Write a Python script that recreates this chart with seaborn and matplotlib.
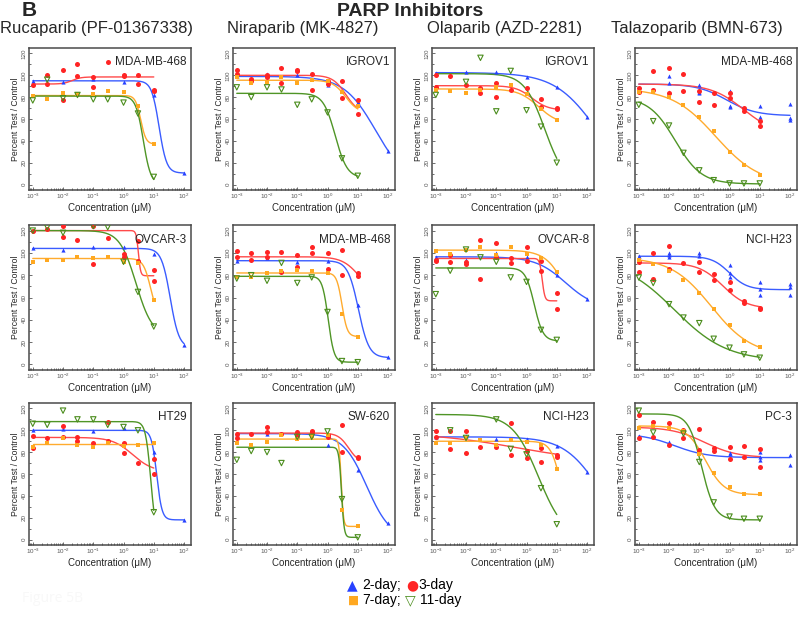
import numpy as np
import pandas as pd
import matplotlib
matplotlib.use("Agg")
from matplotlib import pyplot as plt
from matplotlib.ticker import LogLocator, MultipleLocator, NullFormatter
import seaborn as sns

DAYS = ["2-day", "3-day", "7-day", "11-day"]
COLORS = {"2-day": "#2741ff", "3-day": "#ff2424", "7-day": "#ffa820", "11-day": "#4b8d1d"}
LINE_COLORS = {"2-day": "#3a5cff", "3-day": "#ff4a4a", "7-day": "#ffab2e", "11-day": "#4f9526"}
MARKERS = {"2-day": "^", "3-day": "o", "7-day": "s", "11-day": "v"}
SIZES = {"2-day": 9, "3-day": 13, "7-day": 7, "11-day": 15}

DRUGS = ["Rucaparib (PF-01367338)", "Niraparib (MK-4827)",
         "Olaparib (AZD-2281)", "Talazoparib (BMN-673)"]

# points: (dose uM, percent test/control); fit: (top, bottom, ic50, hill)
ruca_mda468 = {
    "cell": "MDA-MB-468",
    "2-day": [(1e-3, 95), (1e-2, 94), (0.1, 97), (1, 94), (10, 82), (100, 11)],
    "3-day": [(1e-3, 91), (3e-3, 100), (3e-3, 92), (1e-2, 105), (1e-2, 77), (3e-2, 110), (3e-2, 99),
              (0.1, 89), (0.1, 98), (0.3, 112), (1, 100), (1, 99), (3, 100), (3, 92), (10, 87), (10, 86)],
    "7-day": [(1e-3, 81), (3e-3, 78), (1e-2, 84), (3e-2, 83), (0.1, 83), (0.3, 86), (1, 85), (3, 72), (10, 37)],
    "11-day": [(1e-3, 77), (3e-3, 96), (1e-2, 79), (3e-2, 82), (0.1, 78), (0.3, 78), (1, 75), (3, 65), (10, 7)],
}
ruca_mda468_fit = {"2-day": (95, 10.5, 15, 3.5), "3-day": (92, 98.5, 0.02, 3),
                   "7-day": (81.5, 37, 3.7, 5), "11-day": (81, 0, 4.5, 3.5)}

nira_igrov1 = {
    "cell": "IGROV1",
    "2-day": [(1e-3, 99), (1e-2, 101), (0.1, 100), (1, 91), (10, 76), (100, 31)],
    "3-day": [(1e-3, 105), (1e-3, 101), (3e-3, 97), (3e-3, 95), (1e-2, 100), (1e-2, 98), (3e-2, 107), (3e-2, 93),
              (0.1, 104), (0.1, 105), (0.3, 101), (0.3, 87), (1, 95), (1, 92), (3, 95), (3, 79), (10, 77), (10, 65)],
    "7-day": [(1e-3, 98), (3e-3, 93), (1e-2, 94), (3e-2, 98), (0.1, 93), (0.3, 96), (1, 95), (3, 85), (10, 72)],
    "11-day": [(1e-3, 89), (3e-3, 80), (1e-2, 89), (3e-2, 87), (0.1, 73), (0.3, 78), (1, 66), (3, 24), (10, 8)],
}
nira_igrov1_fit = {"2-day": (99, 0, 39, 0.83), "3-day": (100, 65, 4, 2),
                   "7-day": (95.5, 65, 4, 2), "11-day": (83.5, 6, 1.8, 2.2)}

ola_igrov1 = {
    "cell": "IGROV1",
    "2-day": [(1e-3, 102), (1e-2, 103), (0.1, 103), (1, 98), (10, 89), (100, 62)],
    "3-day": [(1e-3, 100), (1e-3, 89), (3e-3, 99), (1e-2, 91), (3e-2, 84), (3e-2, 88), (0.1, 93), (0.1, 80),
              (0.3, 87), (1, 88), (3, 78), (3, 71), (10, 70), (10, 69)],
    "7-day": [(1e-3, 87), (3e-3, 86), (1e-2, 84), (3e-2, 87), (0.1, 89), (0.3, 91), (1, 83), (3, 69), (10, 59)],
    "11-day": [(1e-3, 82), (1e-2, 94), (3e-2, 116), (0.1, 67), (0.3, 104), (1, 68), (3, 53), (10, 20)],
}
ola_igrov1_fit = {"2-day": (102.5, 0, 200, 0.63), "3-day": (90.5, 68, 1.5, 1.6),
                  "7-day": (87.5, 55, 2.5, 1.3), "11-day": (101.5, 0, 4, 1.28)}

tala_mda468 = {
    "cell": "MDA-MB-468",
    "2-day": [(1e-2, 99), (1e-2, 93), (1e-2, 85), (0.1, 91), (0.1, 85), (0.1, 84), (1, 86), (1, 72), (1, 71),
              (10, 72), (10, 62), (100, 74), (100, 61), (100, 59)],
    "3-day": [(1e-3, 88), (1e-3, 85), (3e-3, 104), (3e-3, 87), (1e-2, 107), (1e-2, 84), (3e-2, 101), (3e-2, 86),
              (0.1, 76), (0.1, 86), (0.3, 84), (0.3, 73), (1, 84), (1, 79), (3, 70), (3, 67), (10, 58), (10, 54)],
    "7-day": [(1e-3, 85), (3e-3, 85), (1e-2, 80), (3e-2, 73), (0.1, 62), (0.3, 49), (1, 30), (3, 18), (10, 9)],
    "11-day": [(1e-3, 73), (3e-3, 58), (1e-2, 54), (3e-2, 29), (0.1, 13), (0.3, 4), (1, 1), (3, 1), (10, 1)],
}
tala_mda468_fit = {"2-day": (92, 63, 0.8, 0.9), "3-day": (92, 45, 3, 0.8),
                   "7-day": (88, 0, 0.35, 0.6), "11-day": (80, 0.5, 0.016, 1.0)}

ruca_ovcar3 = {
    "cell": "OVCAR-3",
    "2-day": [(1e-3, 104), (1e-2, 103), (0.1, 105), (1, 105), (10, 99), (100, 17)],
    "3-day": [(1e-3, 120), (3e-3, 121), (1e-2, 124), (1e-2, 114), (3e-2, 112), (0.1, 124), (0.1, 90),
              (0.3, 113), (1, 99), (1, 96), (3, 111), (3, 93), (10, 85), (10, 75)],
    "7-day": [(1e-3, 92), (3e-3, 94), (1e-2, 94), (3e-2, 96), (0.1, 95), (0.3, 96), (1, 92), (3, 91), (10, 58)],
    "11-day": [(1e-3, 120), (3e-3, 123), (1e-2, 118), (0.1, 124), (0.3, 123), (1, 92), (3, 65), (10, 34)],
}
ruca_ovcar3_fit = {"2-day": (104, 15, 35, 3), "3-day": (120, 79.5, 3.1, 12),
                   "7-day": (95, 40, 8, 3.5), "11-day": (120, 25, 2.6, 1.6)}

nira_mda468 = {
    "cell": "MDA-MB-468",
    "2-day": [(1e-3, 93), (1e-2, 95), (0.1, 92), (1, 93), (10, 53), (100, 7)],
    "3-day": [(1e-3, 102), (1e-3, 96), (3e-3, 100), (3e-3, 94), (1e-2, 101), (1e-2, 96), (3e-2, 101), (3e-2, 83),
              (0.1, 98), (0.1, 87), (0.3, 105), (0.3, 100), (1, 100), (1, 86), (3, 103), (3, 80), (10, 82), (10, 79)],
    "7-day": [(1e-3, 78), (3e-3, 78), (1e-2, 82), (3e-2, 84), (0.1, 85), (0.3, 84), (1, 82), (3, 45), (10, 25)],
    "11-day": [(1e-3, 77), (3e-3, 80), (1e-2, 75), (3e-2, 91), (0.1, 73), (0.3, 78), (1, 47), (3, 3), (10, 2)],
}
nira_mda468_fit = {"2-day": (93, 6, 10.5, 2.5), "3-day": (96.5, 60, 12, 1.5),
                   "7-day": (82, 25, 3, 5), "11-day": (79, 2, 1.05, 4.5)}

ola_ovcar8 = {
    "cell": "OVCAR-8",
    "2-day": [(1e-3, 96), (1e-2, 94), (0.1, 100), (1, 96), (10, 80), (100, 59)],
    "3-day": [(1e-3, 94), (1e-3, 93), (3e-3, 98), (3e-3, 92), (1e-2, 92), (1e-2, 90), (3e-2, 112), (3e-2, 77),
              (0.1, 109), (0.1, 96), (0.3, 95), (0.3, 91), (1, 105), (1, 93), (3, 93), (3, 84), (10, 64), (10, 50)],
    "7-day": [(1e-3, 102), (3e-3, 99), (1e-2, 103), (3e-2, 105), (0.1, 98), (0.3, 105), (1, 99), (3, 95), (10, 83)],
    "11-day": [(1e-3, 63), (3e-3, 84), (1e-2, 103), (3e-2, 96), (0.1, 92), (0.3, 78), (1, 74), (3, 31), (10, 22)],
}
ola_ovcar8_fit = {"2-day": (96.5, 50, 19.7, 0.88), "3-day": (95, 57, 3.3, 10),
                  "7-day": (102.5, 0, 33, 1.2), "11-day": (86.5, 21, 1.8, 3)}

tala_h23 = {
    "cell": "NCI-H23",
    "2-day": [(1e-3, 97), (1e-2, 100), (1e-2, 98), (1e-2, 96), (0.1, 100), (0.1, 97), (1, 89), (1, 82), (1, 78),
              (10, 74), (10, 68), (10, 62), (100, 72), (100, 69), (100, 62)],
    "3-day": [(1e-3, 92), (1e-3, 83), (3e-3, 100), (3e-3, 77), (1e-2, 106), (1e-2, 86), (3e-2, 91), (0.1, 92),
              (0.1, 83), (0.3, 81), (0.3, 76), (1, 74), (1, 67), (3, 57), (3, 55), (10, 51), (10, 50)],
    "7-day": [(1e-3, 94), (3e-3, 90), (1e-2, 84), (3e-2, 76), (0.1, 64), (0.3, 50), (1, 35), (3, 21), (10, 16)],
    "11-day": [(1e-3, 78), (3e-3, 73), (1e-2, 54), (3e-2, 42), (0.1, 37), (0.3, 23), (1, 15), (3, 9), (10, 6)],
}
tala_h23_fit = {"2-day": (97, 67, 1, 1.5), "3-day": (91, 50, 0.6, 1.1),
                "7-day": (96, 8, 0.25, 0.65), "11-day": (95, 3, 0.015, 0.5)}

ruca_ht29 = {
    "cell": "HT29",
    "2-day": [(1e-3, 100), (1e-2, 101), (0.1, 99), (1, 102), (10, 80), (100, 18)],
    "3-day": [(1e-3, 95), (1e-3, 84), (3e-3, 93), (1e-2, 104), (1e-2, 94), (3e-2, 94), (3e-2, 90), (0.1, 88),
              (0.3, 108), (0.3, 90), (1, 88), (1, 79), (3, 70), (10, 74), (10, 60)],
    "7-day": [(1e-3, 85), (3e-3, 88), (1e-2, 93), (3e-2, 87), (0.1, 85), (0.3, 88), (1, 86), (3, 87), (10, 88)],
    "11-day": [(1e-3, 106), (3e-3, 105), (1e-2, 118), (3e-2, 110), (0.1, 110), (0.3, 105), (1, 103), (3, 100), (10, 25)],
}
ruca_ht29_fit = {"2-day": (100, 18, 12.5, 5), "3-day": (93.5, 62, 2, 1.3),
                 "7-day": (87.5, 87.5, 1, 1), "11-day": (108, 0, 8, 5)}

nira_sw620 = {
    "cell": "SW-620",
    "2-day": [(1e-3, 97), (1e-2, 97), (0.1, 95), (1, 87), (10, 64), (100, 15)],
    "3-day": [(1e-3, 97), (1e-3, 93), (3e-3, 97), (1e-2, 103), (1e-2, 98), (3e-2, 97), (0.1, 98), (0.1, 95),
              (0.3, 99), (0.3, 98), (1, 96), (1, 94), (3, 105), (3, 80), (10, 76), (10, 75)],
    "7-day": [(1e-3, 88), (3e-3, 87), (1e-2, 89), (3e-2, 96), (0.1, 92), (0.3, 95), (1, 96), (3, 27), (10, 12)],
    "11-day": [(1e-3, 73), (3e-3, 81), (1e-2, 80), (3e-2, 70), (0.1, 94), (0.3, 94), (1, 99), (3, 37), (10, 2)],
}
nira_sw620_fit = {"2-day": (97, 0, 20, 1.1), "3-day": (97.5, 70, 5, 2.5),
                  "7-day": (92, 12, 2.85, 12), "11-day": (84.5, 2, 2.9, 10)}

ola_h23 = {
    "cell": "NCI-H23",
    "2-day": [(1e-3, 94), (1e-2, 95), (0.1, 92), (1, 92), (10, 86), (100, 62)],
    "3-day": [(1e-3, 99), (1e-3, 94), (3e-3, 99), (3e-3, 83), (1e-2, 99), (1e-2, 79), (3e-2, 85), (0.1, 85),
              (0.3, 107), (0.3, 77), (1, 81), (1, 75), (3, 84), (3, 71), (10, 77), (10, 76)],
    "7-day": [(1e-3, 88), (3e-3, 88), (1e-2, 93), (3e-2, 91), (0.1, 87), (0.3, 91), (1, 89), (3, 87), (10, 65)],
    "11-day": [(3e-3, 100), (1e-2, 93), (0.1, 110), (0.3, 83), (1, 78), (3, 47), (10, 14)],
}
ola_h23_fit = {"2-day": (94, 0, 250, 0.74), "3-day": (98, 70, 0.5, 0.3),
               "7-day": (90, 0, 15, 2.5), "11-day": (114.5, 0, 2.5, 1)}

tala_pc3 = {
    "cell": "PC-3",
    "2-day": [(1e-3, 95), (1e-2, 89), (0.1, 81), (1, 79), (1, 78), (10, 80), (10, 76), (10, 73), (100, 77), (100, 68)],
    "3-day": [(1e-3, 114), (1e-3, 93), (3e-3, 108), (3e-3, 94), (1e-2, 107), (1e-2, 87), (3e-2, 100), (3e-2, 93),
              (0.1, 101), (0.1, 82), (0.3, 84), (0.3, 81), (1, 85), (1, 74), (3, 86), (3, 76), (10, 83), (10, 66)],
    "7-day": [(1e-3, 102), (3e-3, 104), (1e-2, 102), (3e-2, 99), (0.1, 78), (0.3, 61), (1, 48), (3, 42), (10, 42)],
    "11-day": [(1e-3, 118), (3e-3, 98), (3e-2, 97), (0.1, 71), (0.3, 34), (1, 21), (3, 19), (10, 19)],
}
tala_pc3_fit = {"2-day": (97, 75, 0.015, 0.8), "3-day": (103, 75, 0.15, 0.8),
                "7-day": (104, 41, 0.16, 1.4), "11-day": (115, 18, 0.12, 2)}

GRID = [
    [(ruca_mda468, ruca_mda468_fit), (nira_igrov1, nira_igrov1_fit), (ola_igrov1, ola_igrov1_fit), (tala_mda468, tala_mda468_fit)],
    [(ruca_ovcar3, ruca_ovcar3_fit), (nira_mda468, nira_mda468_fit), (ola_ovcar8, ola_ovcar8_fit), (tala_h23, tala_h23_fit)],
    [(ruca_ht29, ruca_ht29_fit), (nira_sw620, nira_sw620_fit), (ola_h23, ola_h23_fit), (tala_pc3, tala_pc3_fit)],
]

sns.set_style("ticks")
plt.rcParams["font.family"] = ["Liberation Sans", "DejaVu Sans"]
plt.rcParams["mathtext.default"] = "regular"

fig = plt.figure(figsize=(8, 6.18), dpi=100)
W, H = 800, 618
col_left = [29, 233, 432, 635]
row_top = [48, 225, 403]
row_h = [142, 145, 142]
aw = 162


def logistic(top, bottom, ic50, hill, dmax):
    x = np.logspace(-3, np.log10(dmax), 200)
    return x, bottom + (top - bottom) / (1 + (x / ic50) ** hill)


for r, row in enumerate(GRID):
    for c, (panel, fit) in enumerate(row):
        ax = fig.add_axes([col_left[c] / W, 1 - (row_top[r] + row_h[r]) / H, aw / W, row_h[r] / H])
        for day in DAYS:
            pts = pd.DataFrame(panel[day], columns=["dose", "pct"])
            cx, cy = logistic(*fit[day], pts["dose"].max())
            sns.lineplot(x=cx, y=cy, color=LINE_COLORS[day], lw=1.0, ax=ax, zorder=2)
            if day == "11-day":
                ax.scatter(pts["dose"], pts["pct"], marker="v", s=SIZES[day], facecolors="none",
                           edgecolors=COLORS[day], linewidths=0.8, zorder=3)
            else:
                sns.scatterplot(data=pts, x="dose", y="pct", marker=MARKERS[day], s=SIZES[day],
                                color=COLORS[day], edgecolor=COLORS[day], linewidth=0, ax=ax, zorder=3)
        ax.set_xscale("log")
        ax.set_xlim(7.5e-4, 1.7e2)
        ax.set_ylim(-5, 125)
        ax.xaxis.set_major_locator(LogLocator(base=10, numticks=10))
        ax.xaxis.set_minor_locator(LogLocator(base=10, subs=np.arange(2, 10), numticks=20))
        ax.xaxis.set_minor_formatter(NullFormatter())
        ax.yaxis.set_major_locator(MultipleLocator(20))
        ax.yaxis.set_minor_locator(MultipleLocator(10))
        ax.tick_params(which="both", direction="in", width=0.6, colors="#555555",
                       labelsize=4.5, pad=1.5)
        ax.tick_params(which="major", length=2.5)
        ax.tick_params(which="minor", length=1.5)
        ax.tick_params(axis="y", labelrotation=90)
        for lab in ax.get_yticklabels():
            lab.set_verticalalignment("center")
        for sp in ax.spines.values():
            sp.set_visible(True)
            sp.set_color("#4a4a4a")
            sp.set_linewidth(1.1)
        ax.set_xlabel("Concentration (\u03bcM)", fontsize=7, labelpad=1.5)
        ax.set_ylabel("Percent Test / Control", fontsize=6.2, labelpad=1.5)
        ax.text(0.97, 0.9, panel["cell"], transform=ax.transAxes, ha="right", va="center", fontsize=8.5)

# headings
fig.text(22 / W, 1 - 11 / H, "B", fontsize=15, fontweight="bold", ha="left", va="center")
fig.text(410 / W, 1 - 11 / H, "PARP Inhibitors", fontsize=14, fontweight="bold", ha="center", va="center")
for xc, name in zip([97, 303, 505, 697], DRUGS):
    fig.text(xc / W, 1 - 28 / H, name, fontsize=12, ha="center", va="center")

# legend built from text runs
leg = [
    (347, 585, "\u25b2", COLORS["2-day"], 10), (362, 585, "2-day;", "black", 10),
    (406, 585, "\u25cf", COLORS["3-day"], 10), (418, 585, "3-day", "black", 10),
    (348, 600, "\u25a0", COLORS["7-day"], 8.5), (362, 600, "7-day;", "black", 10),
    (405, 600, "\u25bd", COLORS["11-day"], 10), (420, 600, "11-day", "black", 10),
]
for x, y, s, col, fs in leg:
    fam = ["DejaVu Sans"] if col != "black" else ["Liberation Sans"]
    fig.text(x / W, 1 - y / H, s, color=col, fontsize=fs, ha="left", va="center", family=fam)

fig.text(22 / W, 1 - 598 / H, "Figure 5B", fontsize=10, color="#f8f8f8", ha="left", va="center",
         family=["Open Sans"])

fig.savefig("out.png", dpi=100)
